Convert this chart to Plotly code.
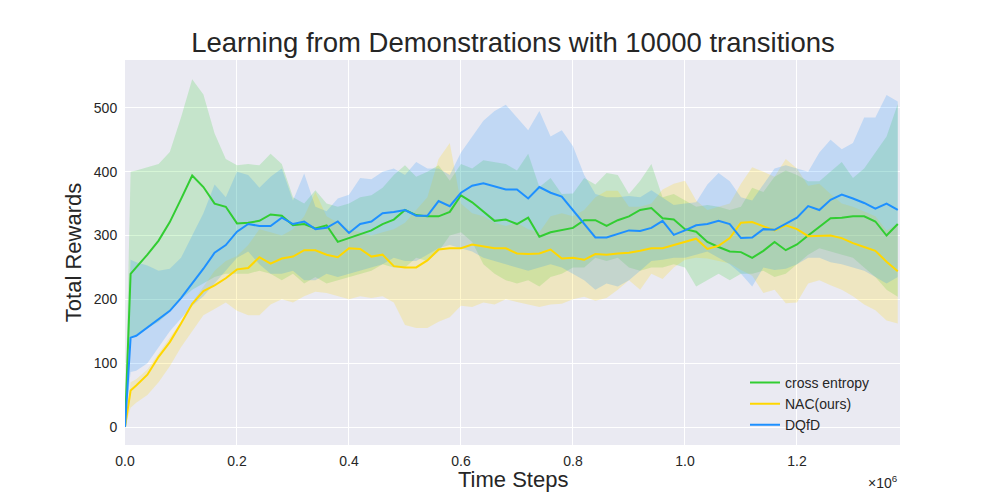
import plotly.graph_objects as go

# Sampling grid (time steps, in units of 1e6)
steps = [0.0, 0.01] + [round(0.02 * i, 2) for i in range(1, 70)]

# cross entropy
ce_mean = [0, 240, 250, 270, 292, 321, 357, 394, 376, 350, 345, 319, 320, 323, 333, 331, 316, 318, 311, 316,
           290, 296, 302, 308, 318, 325, 340, 332, 330, 330, 337, 363, 352, 338, 323, 325, 318, 328, 298, 305,
           308, 312, 324, 324, 315, 324, 330, 340, 343, 327, 325, 310, 306, 290, 282, 275, 274, 265, 276, 290,
           277, 286, 300, 313, 327, 328, 330, 330, 322, 300, 318]
ce_upper = [0, 400, 402, 407, 412, 431, 485, 545, 521, 460, 420, 410, 412, 410, 428, 412, 360, 350, 371, 350,
            345, 350, 360, 363, 375, 395, 410, 392, 400, 410, 386, 412, 405, 418, 415, 412, 402, 428, 376, 390,
            365, 366, 390, 380, 398, 395, 365, 386, 412, 360, 365, 355, 345, 348, 345, 340, 345, 375, 368, 392,
            402, 395, 385, 385, 400, 415, 390, 405, 430, 455, 506]
ce_lower = [0, 140, 145, 155, 165, 180, 200, 215, 225, 235, 240, 240, 240, 245, 240, 230, 240, 225, 235, 225,
            230, 235, 240, 245, 255, 250, 250, 265, 260, 275, 300, 305, 290, 255, 240, 230, 225, 230, 220, 235,
            240, 250, 250, 265, 260, 265, 250, 245, 250, 250, 255, 250, 220, 230, 240, 230, 240, 240, 245, 235,
            240, 255, 270, 280, 275, 270, 265, 250, 235, 215, 204]

# NAC(ours)
nac_mean = [0, 57, 65, 82, 110, 133, 162, 193, 213, 222, 233, 247, 249, 266, 256, 264, 267, 277, 277, 270,
            266, 280, 279, 267, 270, 252, 250, 250, 261, 278, 280, 280, 286, 283, 280, 280, 272, 271, 272, 278,
            264, 265, 262, 271, 270, 272, 273, 276, 280, 280, 285, 290, 295, 279, 284, 296, 320, 321, 314, 308,
            316, 310, 299, 300, 300, 296, 288, 282, 276, 259, 244]
nac_upper = [0, 70, 75, 90, 115, 140, 165, 195, 220, 245, 260, 268, 285, 310, 305, 300, 310, 330, 368, 330,
             320, 310, 305, 300, 305, 310, 320, 340, 360, 420, 445, 350, 335, 330, 320, 315, 320, 310, 305, 330,
             335, 330, 340, 360, 370, 370, 345, 345, 350, 372, 381, 386, 355, 340, 345, 350, 381, 407, 400, 392,
             420, 405, 378, 381, 365, 350, 345, 338, 330, 308, 318]
nac_lower = [0, 30, 38, 50, 70, 95, 125, 150, 175, 185, 195, 182, 175, 175, 192, 200, 195, 205, 212, 210,
             205, 200, 205, 202, 205, 195, 160, 155, 155, 165, 172, 190, 188, 195, 192, 200, 196, 192, 188, 192,
             193, 200, 204, 198, 202, 215, 230, 215, 240, 232, 250, 262, 265, 264, 260, 256, 246, 237, 210, 215,
             194, 195, 225, 230, 222, 215, 205, 192, 183, 167, 162]

# DQfD
dq_mean = [0, 140, 143, 156, 168, 182, 202, 225, 248, 273, 285, 306, 318, 315, 315, 328, 318, 322, 310, 312,
           322, 304, 318, 322, 335, 337, 340, 331, 331, 354, 346, 367, 378, 382, 377, 372, 372, 358, 376, 367,
           361, 340, 318, 297, 297, 302, 308, 307, 312, 323, 301, 308, 316, 318, 323, 318, 296, 297, 310, 309,
           319, 328, 346, 340, 356, 364, 358, 351, 342, 350, 340]
dq_upper = [0, 262, 258, 253, 245, 248, 265, 300, 335, 380, 360, 400, 395, 375, 392, 405, 355, 397, 345, 338,
            358, 364, 390, 388, 400, 405, 395, 415, 405, 405, 395, 430, 455, 480, 495, 505, 485, 465, 495, 455,
            465, 440, 395, 365, 360, 360, 362, 360, 371, 360, 348, 350, 352, 380, 398, 385, 360, 355, 380, 405,
            410, 405, 400, 430, 450, 435, 445, 485, 485, 520, 510]
dq_lower = [0, 86, 88, 100, 125, 150, 170, 190, 205, 225, 245, 265, 275, 255, 240, 240, 245, 230, 230, 240,
            235, 240, 245, 250, 255, 265, 260, 260, 270, 280, 285, 280, 275, 265, 260, 255, 250, 245, 250, 255,
            250, 240, 230, 215, 225, 220, 230, 245, 260, 262, 265, 265, 270, 275, 265, 255, 240, 220, 250, 246,
            248, 255, 265, 265, 258, 255, 250, 245, 235, 225, 235]

series = [
    ("cross entropy", ce_mean, ce_lower, ce_upper, "#32CD32", "rgba(50,205,50,0.2)"),
    ("NAC(ours)", nac_mean, nac_lower, nac_upper, "#FFD700", "rgba(255,215,0,0.2)"),
    ("DQfD", dq_mean, dq_lower, dq_upper, "#1E90FF", "rgba(30,144,255,0.2)"),
]

fig = go.Figure()
for name, m, lo, up, col, fcol in series:
    fig.add_trace(go.Scatter(x=steps, y=lo, mode="lines", line=dict(width=0, color=fcol),
                             showlegend=False, hoverinfo="skip"))
    fig.add_trace(go.Scatter(x=steps, y=up, mode="lines", line=dict(width=0, color=fcol),
                             fill="tonexty", fillcolor=fcol, showlegend=False, hoverinfo="skip"))
for name, m, lo, up, col, fcol in series:
    fig.add_trace(go.Scatter(x=steps, y=m, mode="lines", name=name, line=dict(width=2, color=col)))

font_family = "Liberation Sans, Arial, DejaVu Sans, sans-serif"
fig.update_layout(
    width=1000, height=500,
    margin=dict(l=117, r=108, t=52, b=63, autoexpand=False),
    paper_bgcolor="white", plot_bgcolor="#EAEAF2",
    font=dict(family=font_family, color="#262626", size=14),
    title=dict(text="Learning from Demonstrations with 10000 transitions",
               x=0.505, xanchor="center", y=1 - 34 / 500, yanchor="middle", yref="container",
               font=dict(size=27.5, color="#262626")),
    xaxis=dict(range=[0, 1.384], tickvals=[0, 0.2, 0.4, 0.6, 0.8, 1.0, 1.2],
               ticktext=["0.0", "0.2", "0.4", "0.6", "0.8", "1.0", "1.2"],
               showgrid=True, gridcolor="white", gridwidth=1.3, zeroline=False, showline=False,
               ticks="outside", ticklen=3, tickcolor="rgba(0,0,0,0)", automargin=False),
    yaxis=dict(range=[-28.2, 575], tickvals=[0, 100, 200, 300, 400, 500],
               showgrid=True, gridcolor="white", gridwidth=1.3, zeroline=False, showline=False,
               ticks="outside", ticklen=4, tickcolor="rgba(0,0,0,0)", automargin=False,
               title=dict(text="Total Rewards", font=dict(size=22), standoff=6)),
    legend=dict(x=0.8, y=0.203, xanchor="left", yanchor="top", bgcolor="rgba(0,0,0,0)",
                traceorder="normal", font=dict(size=14, color="#262626")),
    annotations=[
        dict(text="Time Steps", xref="paper", yref="paper", x=0.5, y=-35 / 385,
             xanchor="center", yanchor="middle", showarrow=False, font=dict(size=22)),
        dict(text="×10<sup>6</sup>", xref="paper", yref="paper", x=1.0, y=-0.096,
             xanchor="right", yanchor="middle", showarrow=False, font=dict(size=14)),
    ],
)

fig.write_html("out.html")
